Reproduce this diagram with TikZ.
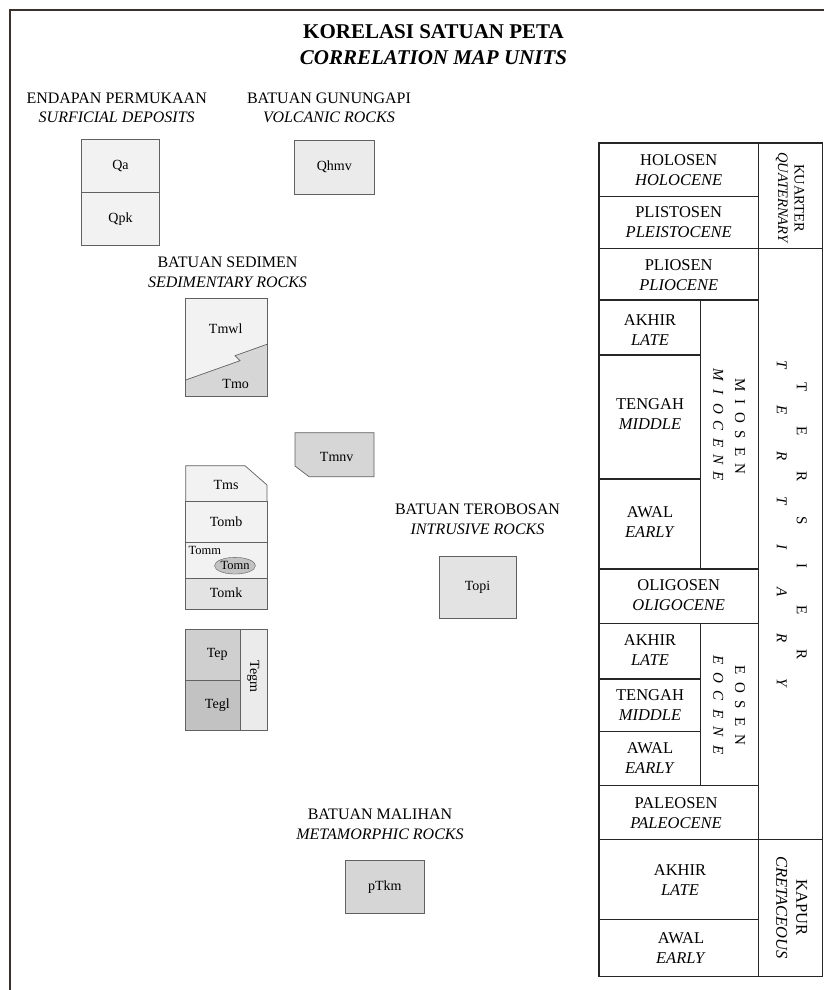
\documentclass[tikz,border=0pt]{standalone}
\usepackage{fontspec}
\setmainfont{Liberation Serif}
\usetikzlibrary{shapes.geometric}
\definecolor{frameclr}{HTML}{3A302C}
\colorlet{edge}{black!62}
\colorlet{toneA}{black!5}
\colorlet{toneB}{black!8}
\colorlet{toneC}{black!11}
\colorlet{toneD}{black!16}
\colorlet{toneE}{black!19}
\colorlet{toneF}{black!24}
\tikzset{
  every node/.style = {inner sep = 0pt, align = center},
  head/.style = {font = \fontsize{16}{19.5}\selectfont},
  unit/.style = {draw = edge, line width = 0.7pt},
  code/.style = {font = \fontsize{14}{14}\selectfont},
  small/.style = {font = \fontsize{12.5}{12.5}\selectfont},
  age/.style = {font = \fontsize{16.5}{20}\selectfont},
  grid/.style = {draw = black!85, line width = 1.1pt},
  spaced/.style = {rotate = -90, font = \fontsize{15}{15}\selectfont},
}

\begin{document}
\begin{tikzpicture}[x = 1pt, y = -1pt]
\useasboundingbox (0, 0) rectangle (824, 990);
\fill[white] (0, 0) rectangle (824, 990);
\draw[color = frameclr, line width = 2.5pt] (10, 990) -- (10, 10) -- (824, 10);

\node[font = \fontsize{21}{26}\selectfont\bfseries] (title) at (433.5, 45)
{KORELASI SATUAN PETA\\\textit{CORRELATION MAP UNITS}};

\node[head] (surf) at (116.7, 108) {ENDAPAN PERMUKAAN\\\textit{SURFICIAL DEPOSITS}};
\node[head] (volc) at (329, 108) {BATUAN GUNUNGAPI\\\textit{VOLCANIC ROCKS}};
\node[head] (sedi) at (227.5, 272.5) {BATUAN SEDIMEN\\\textit{SEDIMENTARY ROCKS}};
\node[head] (intr) at (477.5, 519.5) {BATUAN TEROBOSAN\\\textit{INTRUSIVE ROCKS}};
\node[head] (meta) at (380, 824.5) {BATUAN MALIHAN\\\textit{METAMORPHIC ROCKS}};

\node[unit, code, fill = toneA, minimum width = 77.6pt, minimum height = 53pt] (qa) at (120.5, 165.8) {Qa};
\node[unit, code, fill = toneA, minimum width = 77.6pt, minimum height = 52.7pt] (qpk) at (120.5, 218.7) {Qpk};
\node[unit, code, fill = toneB, minimum width = 80.7pt, minimum height = 54.3pt] (qhmv) at (334.3, 167.2) {Qhmv};
\node[unit, code, fill = toneC, minimum width = 77pt, minimum height = 62pt] (topi) at (477.5, 587.7) {Topi};
\node[unit, code, fill = toneD, minimum width = 78.3pt, minimum height = 53.3pt] (ptkm) at (384.9, 886.7) {pTkm};

\fill[toneA] (185.7, 298.3) rectangle (267, 396.7);
\fill[toneD] (185.7, 380) -- (240, 360.7) -- (235, 355.7) -- (267, 344.3) -- (267, 396.7) -- (185.7, 396.7) -- cycle;
\draw[unit] (185.7, 380) -- (240, 360.7) -- (235, 355.7) -- (267, 344.3);
\draw[unit] (185.7, 298.3) rectangle (267, 396.7);
\node[code] (tmwl) at (225.7, 328.3) {Tmwl};
\node[code] (tmo) at (235.7, 384) {Tmo};

\draw[unit, fill = toneD] (295, 432.7) -- (374, 432.7) -- (374, 476.7) -- (309, 476.7) -- (295, 466) -- cycle;
\node[code] (tmnv) at (336.7, 456.7) {Tmnv};

\draw[unit, fill = toneA] (185.7, 465.7) -- (245, 465.7) -- (267, 485) -- (267, 501.7) -- (185.7, 501.7) -- cycle;
\foreach \ya/\yb/\tone in {501.7/542.7/toneA, 542.7/578.3/toneA, 578.3/609.3/toneC}
\draw[unit, fill = \tone] (185.7, \ya) rectangle (267, \yb);
\node[code] (tms) at (226, 485) {Tms};
\node[code] (tomb) at (226, 521.7) {Tomb};
\node[small, anchor = west] (tomm) at (188.5, 550) {Tomm};
\node[ellipse, draw = black!65, fill = toneF, minimum width = 38pt, minimum height = 16.7pt, small] (tomn) at (235, 565.7) {Tomn};
\node[code] (tomk) at (226, 592.7) {Tomk};

\draw[unit, fill = toneE] (185.7, 629) rectangle (240, 680);
\draw[unit, fill = toneF] (185.7, 680) rectangle (240, 730);
\draw[unit, fill = toneB] (240, 629) rectangle (267, 730);
\node[code] (tep) at (217.3, 654) {Tep};
\node[code] (tegl) at (217.3, 705) {Tegl};
\node[code, rotate = -90] (tegm) at (253.3, 676.7) {Tegm};

\draw[grid] (599, 143) rectangle (822.5, 976.7);
\draw[grid] (758.5, 143) -- (758.5, 976.7);
\draw[grid] (700.5, 300) -- (700.5, 569);
\draw[grid] (700.5, 623.5) -- (700.5, 785.7);
\foreach \y in {248.3, 839.3}
\draw[grid] (599, \y) -- (822.5, \y);
\foreach \y in {196.7, 300, 569, 623.5, 785.7, 919.3}
\draw[grid] (599, \y) -- (758.5, \y);
\foreach \y in {355, 479, 679, 731.7}
\draw[grid] (599, \y) -- (700.5, \y);

\node[age] (hol) at (678.7, 170) {HOLOSEN\\\textit{HOLOCENE}};
\node[age] (ple) at (678.7, 222.5) {PLISTOSEN\\\textit{PLEISTOCENE}};
\node[age] (pli) at (678.7, 275) {PLIOSEN\\\textit{PLIOCENE}};
\node[age] (mla) at (650, 330) {AKHIR\\\textit{LATE}};
\node[age] (mmi) at (650, 413.7) {TENGAH\\\textit{MIDDLE}};
\node[age] (mea) at (650, 522.5) {AWAL\\\textit{EARLY}};
\node[age] (oli) at (678.7, 595) {OLIGOSEN\\\textit{OLIGOCENE}};
\node[age] (ela) at (650, 650) {AKHIR\\\textit{LATE}};
\node[age] (emi) at (650, 705.5) {TENGAH\\\textit{MIDDLE}};
\node[age] (eea) at (650, 758.3) {AWAL\\\textit{EARLY}};
\node[age] (pal) at (676, 813.3) {PALEOSEN\\\textit{PALEOCENE}};
\node[age] (kla) at (680, 880) {AKHIR\\\textit{LATE}};
\node[age] (kea) at (681, 948.3) {AWAL\\\textit{EARLY}};

\node[rotate = -90, font = \fontsize{14.5}{16.5}\selectfont] (kua) at (790, 198) {KUARTER\\\textit{QUATERNARY}};
\node[rotate = -90, font = \fontsize{16.5}{20}\selectfont] (kap) at (791.7, 907.5) {KAPUR\\\textit{CRETACEOUS}};

\foreach \l [count = \i] in {M, I, O, S, E, N}
\node[spaced] (mios\i) at (740, {385 + 16.7*(\i - 1)}) {\l};
\foreach \l [count = \i] in {M, I, O, C, E, N, E}
\node[spaced] (mioc\i) at (718.3, {375 + 16.9*(\i - 1)}) {\textit{\l}};
\foreach \l [count = \i] in {E, O, S, E, N}
\node[spaced] (eos\i) at (740, {670 + 17.5*(\i - 1)}) {\l};
\foreach \l [count = \i] in {E, O, C, E, N, E}
\node[spaced] (eoc\i) at (718.3, {660 + 18*(\i - 1)}) {\textit{\l}};
\foreach \l [count = \i] in {T, E, R, S, I, E, R}
\node[spaced] (ters\i) at (801.7, {386.7 + 44.7*(\i - 1)}) {\l};
\foreach \l [count = \i] in {T, E, R, T, I, A, R, Y}
\node[spaced] (tert\i) at (781.7, {365 + 45.5*(\i - 1)}) {\textit{\l}};

\end{tikzpicture}
\end{document}
